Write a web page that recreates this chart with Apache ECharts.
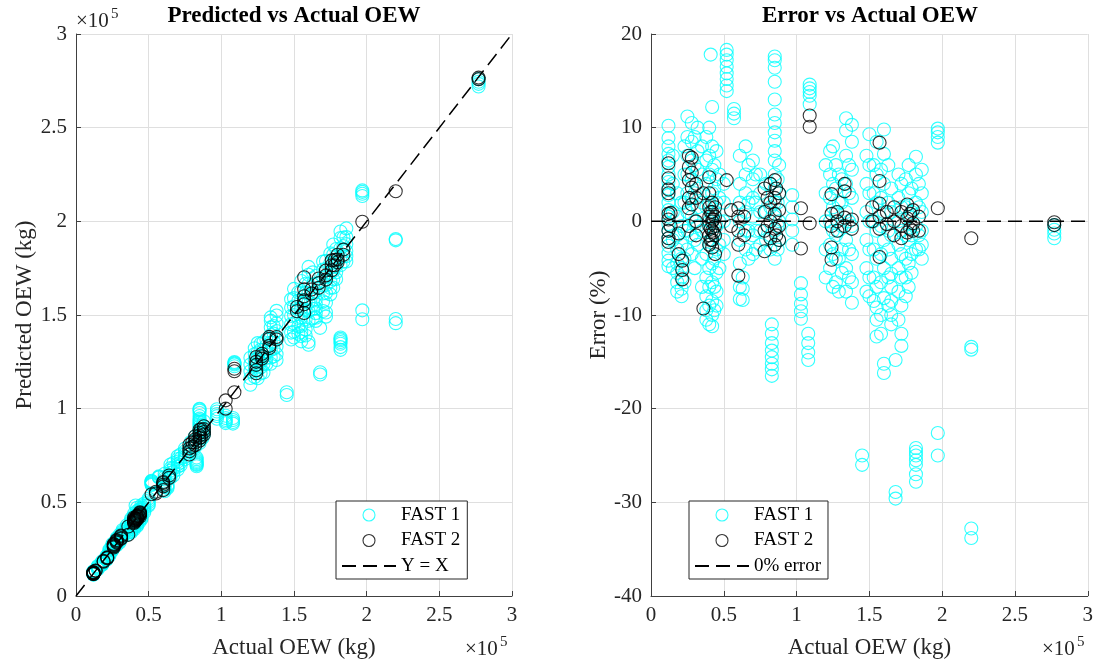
<!DOCTYPE html>
<html>
<head>
<meta charset="utf-8">
<title>Predicted vs Actual OEW</title>
<script src="https://cdn.jsdelivr.net/npm/echarts@6/dist/echarts.min.js"></script>
<style>
  html, body { margin: 0; padding: 0; background: #fff; }
  #main { width: 1096px; height: 667px; }
</style>
</head>
<body>
<div id="main"></div>
<script>
// rows: [actual OEW (kg), predicted OEW (kg), error (%)]
var fast1 = [
  [12000,13220,10.2],[12000,13070,8.9],[12000,12960,8.0],[12000,12860,7.2],[12000,12780,6.5],[12000,12700,5.8],[12000,12600,5.0],
  [12000,12500,4.2],[12000,12420,3.5],[12000,12340,2.8],[12000,12240,2.0],[12000,12140,1.2],[12000,12060,0.5],[12000,11960,-0.3],
  [12000,11880,-1.0],[12000,11780,-1.8],[12000,11690,-2.6],[12000,11590,-3.4],[12000,11500,-4.2],[12000,11420,-4.8],
  [15000,16050,7.0],[15000,15600,4.0],[15000,15150,1.0],[15000,14700,-2.0],[15000,14250,-5.0],
  [18000,18540,3.0],[18000,18090,0.5],[18000,17730,-1.5],[18000,17460,-3.0],[18000,17190,-4.5],[18000,17010,-5.5],[18000,16830,-6.5],[18000,16650,-7.5],
  [21000,21420,2.0],[21000,20900,-0.5],[21000,20480,-2.5],[21000,20160,-4.0],[21000,19950,-5.0],[21000,19740,-6.0],[21000,19490,-7.2],[21000,19320,-8.0],
  [23000,24840,8.0],[23000,24150,5.0],[23000,23460,2.0],[23000,22770,-1.0],[23000,22080,-4.0],[23000,21510,-6.5],
  [25000,27800,11.2],[25000,27250,9.0],[25000,26750,7.0],[25000,26250,5.0],[25000,25750,3.0],[25000,25250,1.0],[25000,24750,-1.0],[25000,24250,-3.0],
  [28000,30940,10.5],[28000,30380,8.5],[28000,29820,6.5],[28000,29260,4.5],[28000,28700,2.5],[28000,28140,0.5],[28000,27580,-1.5],[28000,27020,-3.5],
  [30000,32700,9.0],[30000,31800,6.0],[30000,30900,3.0],[30000,30000,0.0],[30000,29400,-2.0],[30000,28500,-5.0],
  [32000,35200,10.0],[32000,34400,7.5],[32000,33760,5.5],[32000,33120,3.5],[32000,32480,1.5],[32000,31840,-0.5],[32000,31200,-2.5],
  [35000,37800,8.0],[35000,36750,5.0],[35000,35700,2.0],[35000,34650,-1.0],[35000,33600,-4.0],[35000,32550,-7.0],
  [38000,41420,9.0],[38000,40470,6.5],[38000,39520,4.0],[38000,38570,1.5],[38000,37620,-1.0],[38000,36670,-3.5],[38000,35720,-6.0],
  [38000,34960,-8.0],[38000,34390,-9.5],[38000,34010,-10.5],
  [40000,44000,10.0],[40000,42800,7.0],[40000,42000,5.0],[40000,40800,2.0],[40000,40000,0.0],[40000,39000,-2.5],[40000,38000,-5.0],
  [40000,37200,-7.0],[40000,36400,-9.0],[40000,35600,-11.0],
  [41000,48300,17.8],
  [42000,47120,12.2],[42000,45360,8.0],[42000,44310,5.5],[42000,43260,3.0],[42000,42210,0.5],[42000,41160,-2.0],[42000,40110,-4.5],
  [42000,39270,-6.5],[42000,38430,-8.5],[42000,37800,-10.0],[42000,37300,-11.2],
  [43500,46110,6.0],[43500,45020,3.5],[43500,43940,1.0],[43500,42850,-1.5],[43500,41760,-4.0],[43500,40460,-7.0],[43500,39370,-9.5],
  [45000,48380,7.5],[45000,47030,4.5],[45000,45900,2.0],[45000,44780,-0.5],[45000,43650,-3.0],[45000,42530,-5.5],[45000,41630,-7.5],[45000,40950,-9.0],
  [47000,49350,5.0],[47000,48180,2.5],[47000,47000,0.0],[47000,45830,-2.5],[47000,44650,-5.0],
  [50000,52000,4.0],[50000,51000,2.0],[50000,50000,0.0],[50000,49000,-2.0],[50000,48250,-3.5],
  [52000,61520,18.3],[52000,61260,17.8],[52000,60940,17.2],[52000,60580,16.5],[52000,60220,15.8],[52000,59900,15.2],[52000,59540,14.5],[52000,59230,13.9],
  [57000,63840,12.0],[57000,63560,11.5],[57000,63270,11.0],
  [61000,65270,7.0],[61000,63440,4.0],[61000,62220,2.0],[61000,61000,0.0],[61000,59780,-2.0],[61000,58260,-4.5],[61000,56730,-7.0],[61000,55940,-8.3],
  [63000,59220,-6.0],[63000,58460,-7.2],[63000,57710,-8.4],
  [65000,70200,8.0],[65000,68250,5.0],[65000,66950,3.0],[65000,65650,1.0],[65000,64350,-1.0],[65000,63050,-3.0],
  [67000,71020,6.0],[67000,68340,2.0],[67000,66330,-1.0],[67000,64320,-4.0],
  [70000,74550,6.5],[70000,73150,4.5],[70000,71750,2.5],[70000,70350,0.5],[70000,68950,-1.5],[70000,67550,-3.5],
  [72000,75600,5.0],[72000,73440,2.0],[72000,71280,-1.0],[72000,69840,-3.0],
  [75000,78750,5.0],[75000,77250,3.0],[75000,75750,1.0],[75000,74250,-1.0],[75000,73130,-2.5],
  [79000,82160,4.0],[79000,79790,1.0],[79000,77420,-2.0],
  [82000,85280,4.0],[82000,83230,1.5],[82000,80770,-1.5],[82000,79540,-3.0],
  [83000,73870,-11.0],[83000,73040,-12.0],[83000,72210,-13.0],[83000,71550,-13.8],[83000,70970,-14.5],[83000,70380,-15.2],[83000,69890,-15.8],[83000,69300,-16.5],
  [85000,99960,17.6],[85000,99620,17.2],[85000,98940,16.4],[85000,97670,14.9],[85000,96050,13.0],[85000,94690,11.4],[85000,93930,10.5],
  [85000,93080,9.5],[85000,92310,8.6],[85000,91380,7.5],[85000,90530,6.5],[85000,89250,5.0],[85000,87980,3.5],[85000,86700,2.0],
  [85000,85430,0.5],[85000,84150,-1.0],[85000,82880,-2.5],[85000,81600,-4.0],
  [87000,90920,4.5],[87000,88740,2.0],[87000,86570,-0.5],[87000,84390,-3.0],
  [88000,93280,6.0],[88000,90640,3.0],[88000,88000,0.0],[88000,86240,-2.0],
  [97000,99720,2.8],[97000,98460,1.5],[97000,97190,0.2],[97000,96030,-1.0],[97000,94580,-2.5],
  [103000,96200,-6.6],[103000,94970,-7.8],[103000,93940,-8.8],[103000,93110,-9.6],[103000,92290,-10.4],
  [108000,95040,-12.0],[108000,93960,-13.0],[108000,92880,-14.0],[108000,92020,-14.8],
  [109000,124910,14.6],[109000,124480,14.2],[109000,124040,13.8],[109000,123610,13.4],[109000,122630,12.5],
  [120000,127200,6.0],[120000,123600,3.0],[120000,120000,0.0],[120000,116400,-3.0],[120000,112800,-6.0],
  [123000,132230,7.5],[123000,129150,5.0],[123000,126080,2.5],[123000,123000,0.0],[123000,119930,-2.5],[123000,116850,-5.0],
  [125000,135000,8.0],[125000,130000,4.0],[125000,126880,1.5],[125000,123750,-1.0],[125000,120630,-3.5],[125000,116250,-7.0],
  [127000,134620,6.0],[127000,131450,3.5],[127000,128270,1.0],[127000,125100,-1.5],[127000,121920,-4.0],[127000,118750,-6.5],
  [129000,135450,5.0],[129000,131580,2.0],[129000,127710,-1.0],[129000,123840,-4.0],[129000,119330,-7.5],
  [131000,136900,4.5],[131000,133620,2.0],[131000,130350,-0.5],[131000,127070,-3.0],[131000,123800,-5.5],
  [134000,148740,11.0],[134000,147000,9.7],[134000,143380,7.0],[134000,139360,4.0],[134000,135340,1.0],[134000,131320,-2.0],[134000,127300,-5.0],[134000,123950,-7.5],
  [136000,144160,6.0],[136000,140080,3.0],[136000,136000,0.0],[136000,131920,-3.0],[136000,127840,-6.0],
  [138000,152210,10.3],[138000,149730,8.5],[138000,145590,5.5],[138000,141450,2.5],[138000,137310,-0.5],[138000,133170,-3.5],[138000,129030,-6.5],[138000,126000,-8.7],
  [145000,108750,-25.0],[145000,107300,-26.0],
  [148000,158360,7.0],[148000,153920,4.0],[148000,149480,1.0],[148000,145040,-2.0],[148000,140600,-5.0],[148000,136900,-7.5],
  [150000,163950,9.3],[150000,159000,6.0],[150000,154500,3.0],[150000,150000,0.0],[150000,145500,-3.0],[150000,141000,-6.0],[150000,138000,-8.0],
  [153000,162180,6.0],[153000,157590,3.0],[153000,153000,0.0],[153000,148410,-3.0],[153000,143820,-6.0],[153000,139990,-8.5],
  [155000,168180,8.5],[155000,162750,5.0],[155000,158100,2.0],[155000,153450,-1.0],[155000,148800,-4.0],[155000,144150,-7.0],
  [155000,140740,-9.2],[155000,138730,-10.5],[155000,135940,-12.3],
  [158000,166690,5.5],[158000,161950,2.5],[158000,157210,-0.5],[158000,152470,-3.5],[158000,147730,-6.5],[158000,142200,-10.0],[158000,139040,-12.0],
  [160000,175680,9.8],[160000,171520,7.2],[160000,166400,4.0],[160000,161600,1.0],[160000,156800,-2.0],[160000,152000,-5.0],
  [160000,146880,-8.2],[160000,135680,-15.2],[160000,134080,-16.2],
  [163000,172780,6.0],[163000,166260,2.0],[163000,161370,-1.0],[163000,158110,-3.0],[163000,153220,-6.0],[163000,148330,-9.0],
  [165000,170780,3.5],[165000,166650,1.0],[165000,162530,-1.5],[165000,158400,-4.0],[165000,155760,-5.6],[165000,153450,-7.0],
  [165000,150980,-8.5],[165000,148500,-10.0],[165000,146850,-11.0],
  [168000,143140,-14.8],[168000,119450,-28.9],[168000,118270,-29.6],
  [170000,178500,5.0],[170000,174250,2.5],[170000,170000,0.0],[170000,165750,-2.5],[170000,161500,-5.0],[170000,157250,-7.5],[170000,152150,-10.5],
  [172000,178880,4.0],[172000,174580,1.5],[172000,170280,-1.0],[172000,165980,-3.5],[172000,161680,-6.0],[172000,156520,-9.0],
  [172000,151360,-12.0],[172000,149120,-13.3],
  [175000,182880,4.5],[175000,177630,1.5],[175000,172380,-1.5],[175000,168000,-4.0],[175000,164500,-6.0],[175000,161000,-8.0],
  [177000,187620,6.0],[177000,182310,3.0],[177000,177890,0.5],[177000,173460,-2.0],[177000,169040,-4.5],[177000,164610,-7.0],
  [179000,185270,3.5],[179000,180790,1.0],[179000,176320,-1.5],[179000,172740,-3.5],[179000,169160,-5.5],
  [182000,194560,6.9],[182000,191100,5.0],[182000,185640,2.0],[182000,181090,-0.5],[182000,176540,-3.0],[182000,137960,-24.2],
  [182000,137230,-24.6],[182000,136500,-25.0],[182000,135590,-25.5],[182000,134680,-26.0],[182000,132860,-27.0],[182000,131400,-27.8],
  [184000,191360,4.0],[184000,186760,1.5],[184000,181240,-1.5],[184000,178480,-3.0],
  [186000,196230,5.5],[186000,191580,3.0],[186000,187860,1.0],[186000,184140,-1.0],[186000,181350,-2.5],[186000,178560,-4.0],
  [197000,216500,9.9],[197000,215720,9.5],[197000,214730,9.0],[197000,213550,8.4],[197000,152480,-22.6],[197000,147750,-25.0],
  [220000,190520,-13.4],[220000,189860,-13.7],[220000,147840,-32.8],[220000,145640,-33.8],
  [277000,275890,-0.4],[277000,274510,-0.9],[277000,273400,-1.3],[277000,272010,-1.8]
];

var fast2 = [
  [12000,12740,6.2],[12000,12550,4.6],[12000,12410,3.4],[12000,12360,3.0],[12000,12100,0.8],[12000,12020,0.2],[12000,11880,-1.0],[12000,11780,-1.8],[12000,11740,-2.2],
  [13500,13620,0.9],[13500,13430,-0.5],
  [19000,18750,-1.3],[19000,18340,-3.5],
  [21500,20600,-4.2],[21500,20380,-5.2],[21500,20170,-6.2],
  [26000,27820,7.0],[26000,27510,5.8],[26000,27140,4.4],[26000,26650,2.5],[26000,26360,1.4],[26000,25870,-0.5],
  [28000,29900,6.8],[28000,29460,5.2],[28000,29010,3.6],[28000,28500,1.8],
  [31000,32240,4.0],[31000,31780,2.5],[31000,31000,0.0],[31000,30540,-1.5],
  [36000,32650,-9.3],[36000,37080,3.0],
  [40000,41880,4.7],[40000,41200,3.0],[40000,40600,1.5],[40000,40200,0.5],[40000,39800,-0.5],[40000,39400,-1.5],[40000,39000,-2.5],
  [41000,41410,1.0],[41000,40670,-0.8],[41000,40180,-2.0],
  [42000,42840,2.0],[42000,42420,1.0],[42000,42000,0.0],[42000,41580,-1.0],[42000,41160,-2.0],[42000,40820,-2.8],
  [43000,43090,0.2],[43000,42480,-1.2],
  [44000,44660,1.5],[44000,44220,0.5],[44000,43780,-0.5],[44000,43340,-1.5],[44000,42460,-3.5],
  [52000,54290,4.4],
  [55000,55660,1.2],[55000,54730,-0.5],
  [60000,60840,1.4],[60000,60300,0.5],[60000,59400,-1.0],[60000,58500,-2.5],[60000,56520,-5.8],
  [64000,64320,0.5],[64000,63040,-1.5],
  [78000,80730,3.5],[78000,78780,1.0],[78000,77220,-1.0],[78000,75500,-3.2],
  [80000,82000,2.5],[80000,79600,-0.5],
  [82000,85280,4.0],[82000,83640,2.0],[82000,82000,0.0],[82000,80520,-1.8],
  [85000,88740,4.4],[85000,87130,2.5],[85000,85680,0.8],[85000,84320,-0.8],[85000,82880,-2.5],
  [86000,89010,3.5],[86000,84710,-1.5],
  [88000,90640,3.0],[88000,89060,1.2],[88000,87560,-0.5],[88000,86240,-2.0],
  [103000,104440,1.4],[103000,100010,-2.9],
  [109000,121320,11.3],[109000,120010,10.1],[109000,108780,-0.2],
  [124000,127600,2.9],[124000,124990,0.8],[124000,123380,-0.5],[124000,120530,-2.8],[124000,118920,-4.1],
  [128000,129280,1.0],[128000,128000,0.0],[128000,126720,-1.0],
  [133000,138320,4.0],[133000,137260,3.2],[133000,133530,0.4],[133000,132340,-0.5],
  [138000,138280,0.2],[138000,136900,-0.8],
  [152000,154280,1.5],[152000,152000,0.0],
  [157000,170190,8.4],[157000,163750,4.3],[157000,159980,1.9],[157000,157790,0.5],[157000,155740,-0.8],[157000,151030,-3.8],
  [162000,163620,1.0],[162000,161510,-0.3],
  [167000,169510,1.5],[167000,167000,0.0],[167000,164500,-1.5],
  [172000,173720,1.0],[172000,171140,-0.5],[172000,168900,-1.8],
  [176000,179170,1.8],[176000,176530,0.3],[176000,173890,-1.2],
  [178000,179420,0.8],[178000,176580,-0.8],
  [180000,182160,1.2],[180000,179640,-0.2],[180000,178200,-1.0],
  [184000,184920,0.5],[184000,182160,-1.0],
  [197000,199760,1.4],
  [220000,216040,-1.8],
  [277000,276720,-0.1],[277000,275890,-0.4]
];

// reference lines
var identityLine = [[0, 0], [300000, 300000]];
var zeroErrorLine = [[0, 0], [300000, 0]];

var oewTicks = [0, 300000, 50000];   // min, max, step
var errorTicks = [-40, 20, 10];

var serif = 'Liberation Serif';
var axisColor = '#404040';
var textColor = '#262626';

function valueAxis(grid, ticks, name, gap, fmt) {
  return {
    gridIndex: grid, type: 'value',
    min: ticks[0], max: ticks[1], interval: ticks[2],
    name: name, nameLocation: 'middle', nameGap: gap,
    nameTextStyle: { fontFamily: serif, fontSize: 23, color: textColor },
    axisLine: { onZero: false, lineStyle: { color: axisColor, width: 1 } },
    axisTick: { inside: true, length: 5, lineStyle: { color: axisColor } },
    axisLabel: { fontFamily: serif, fontSize: 21, color: textColor, margin: 9, formatter: fmt },
    splitLine: { show: true, lineStyle: { color: '#dfdfdf', width: 1 } }
  };
}
var per1e5 = function (v) { return String(v / 1e5); };

function circles(name, rows, col, grid, color, z) {
  return {
    type: 'scatter', name: name, xAxisIndex: grid, yAxisIndex: grid, z: z,
    data: rows.map(function (r) { return [r[0], r[col]]; }),
    symbol: 'circle', symbolSize: 13,
    itemStyle: { color: 'transparent', borderColor: color, borderWidth: 1.1 },
    emphasis: { disabled: true }, silent: true
  };
}
function dashed(name, pts, grid) {
  return {
    type: 'line', name: name, xAxisIndex: grid, yAxisIndex: grid, z: 5,
    data: pts, symbol: 'none', showSymbol: false, silent: true,
    itemStyle: { color: 'transparent', borderColor: 'transparent' },
    lineStyle: { color: '#000', width: 1.5, type: [14, 7] }
  };
}
function legendBox(left, names) {
  return {
    data: names, orient: 'vertical', left: left, top: 501,
    padding: [4, 7, 3, 5], itemWidth: 54, itemHeight: 12, itemGap: 5.5,
    backgroundColor: '#fff', borderColor: '#262626', borderWidth: 1, borderRadius: 0,
    selectedMode: false,
    itemStyle: { borderWidth: 1.1 },
    textStyle: { fontFamily: serif, fontSize: 19, color: '#000', lineHeight: 20 }
  };
}
function exponent(x, y) {
  return [
    { type: 'text', x: x, y: y, style: { text: '×10', font: '21px "Liberation Serif"', fill: textColor, textVerticalAlign: 'top', verticalAlign: 'top' } },
    { type: 'text', x: x + 35, y: y - 4, style: { text: '5', font: '15px "Liberation Serif"', fill: textColor, textVerticalAlign: 'top', verticalAlign: 'top' } }
  ];
}

var chart = echarts.init(document.getElementById('main'));
chart.setOption({
  animation: false,
  backgroundColor: '#fff',
  title: [
    { text: 'Predicted vs Actual OEW', left: 294, top: 5, textAlign: 'center', padding: 0,
      textStyle: { fontFamily: serif, fontSize: 23, fontWeight: 'bold', color: '#000' } },
    { text: 'Error vs Actual OEW', left: 870, top: 5, textAlign: 'center', padding: 0,
      textStyle: { fontFamily: serif, fontSize: 23, fontWeight: 'bold', color: '#000' } }
  ],
  grid: [
    { left: 76, top: 34, width: 436, height: 562 },
    { left: 651, top: 34, width: 438, height: 562 }
  ],
  xAxis: [
    valueAxis(0, oewTicks, 'Actual OEW (kg)', 40, per1e5),
    valueAxis(1, oewTicks, 'Actual OEW (kg)', 40, per1e5)
  ],
  yAxis: [
    valueAxis(0, oewTicks, 'Predicted OEW (kg)', 35, per1e5),
    valueAxis(1, errorTicks, 'Error (%)', 39)
  ],
  legend: [
    legendBox(336, ['FAST 1', 'FAST 2', 'Y = X']),
    legendBox(689, ['FAST 1', 'FAST 2', '0% error'])
  ],
  graphic: [].concat(exponent(76, 11), exponent(465, 639), exponent(1042, 639)),
  series: [
    circles('FAST 1', fast1, 1, 0, '#00ffff', 2),
    circles('FAST 2', fast2, 1, 0, '#000000', 3),
    dashed('Y = X', identityLine, 0),
    circles('FAST 1', fast1, 2, 1, '#00ffff', 2),
    circles('FAST 2', fast2, 2, 1, '#000000', 3),
    dashed('0% error', zeroErrorLine, 1)
  ]
});
</script>
</body>
</html>
